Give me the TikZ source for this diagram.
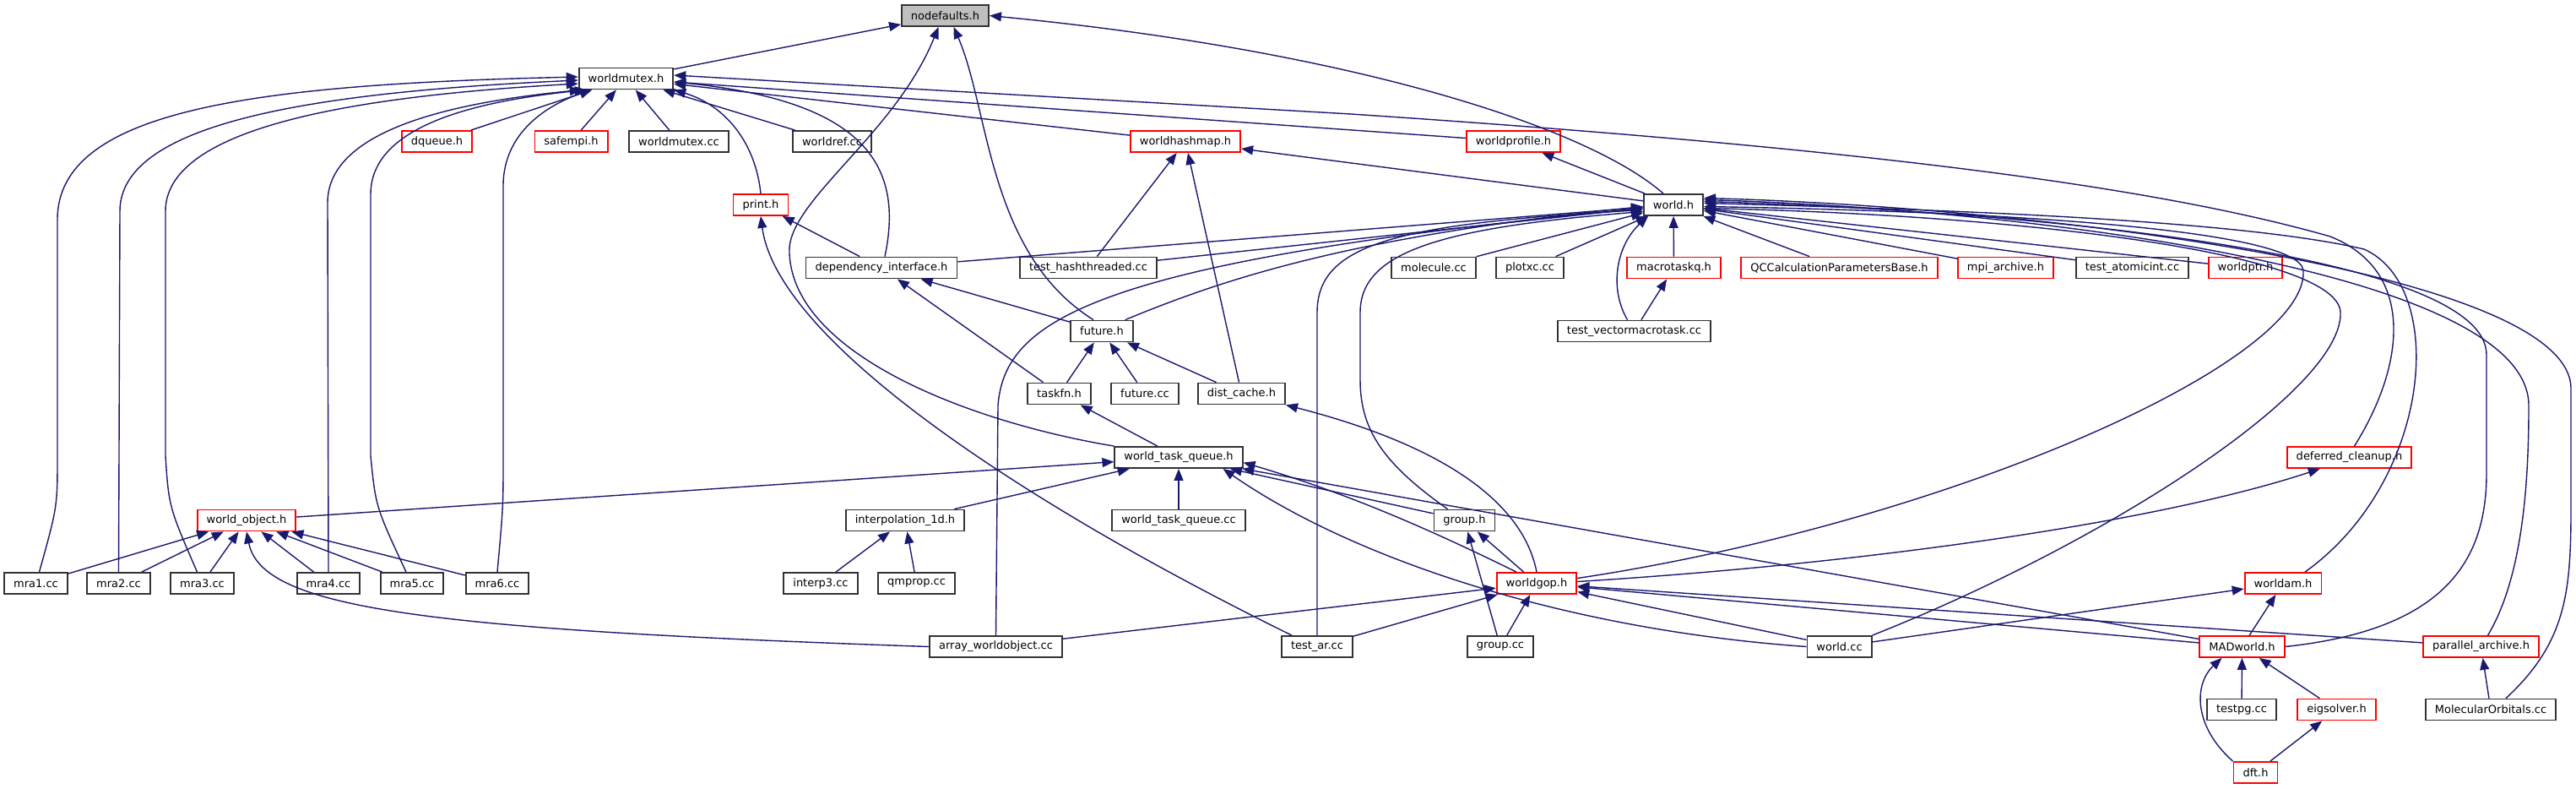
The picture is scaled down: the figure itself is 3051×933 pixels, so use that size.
\documentclass[tikz,border=0pt]{standalone}
\usepackage{fontspec}
\setmainfont{DejaVu Sans}
\usepackage{tikz}
\usetikzlibrary{arrows.meta}
\usepackage{xcolor}
\definecolor{midnight}{RGB}{25,25,112}
\definecolor{hdrred}{RGB}{255,0,0}

\begin{document}
\begin{tikzpicture}[
    x=0.5pt, y=-0.5pt,
    every node/.style={font=\fontsize{6.5}{7.8}\selectfont, align=center},
    hdrFile/.style={rectangle, draw=black!80, fill=white, line width=0.9pt, minimum height=12.5pt, inner xsep=5.5pt, inner ysep=0pt},
    hdrRed/.style={hdrFile, draw=hdrred},
    hdrRoot/.style={hdrFile, fill=black!25},
    inclLine/.style={draw=midnight, line width=0.7pt, -{Triangle[length=7pt,width=5.5pt]}}
]
    \useasboundingbox (0,0) rectangle (3051,933);

    \node [hdrRoot] (nodef) at (1119.5, 18.5) {nodefaults.h};

    \node [hdrFile] (wmutex) at (741.5, 93) {worldmutex.h};

    \node [hdrRed] (dqueue) at (517.5, 167.5) {dqueue.h};
    \node [hdrRed] (safempi) at (676.5, 167.5) {safempi.h};
    \node [hdrFile] (wmutexcc) at (804, 167.5) {worldmutex.cc};
    \node [hdrFile] (wref) at (985.5, 167.5) {worldref.cc};
    \node [hdrRed] (whash) at (1404, 167.5) {worldhashmap.h};
    \node [hdrRed] (wprof) at (1792.5, 167.5) {worldprofile.h};

    \node [hdrRed] (print) at (901, 242.5) {print.h};
    \node [hdrFile] (world) at (1982, 242.5) {world.h};

    \node [hdrFile] (depif) at (1044, 317) {dependency\_interface.h};
    \node [hdrFile] (testhash) at (1289, 317) {test\_hashthreaded.cc};
    \node [hdrFile] (molecule) at (1698, 317) {molecule.cc};
    \node [hdrFile] (plotxc) at (1812, 317) {plotxc.cc};
    \node [hdrRed] (mtaskq) at (1982.5, 317) {macrotaskq.h};
    \node [hdrRed] (qcparams) at (2178.5, 317) {QCCalculationParametersBase.h};
    \node [hdrRed] (mpiarch) at (2375.5, 317) {mpi\_archive.h};
    \node [hdrFile] (testatomic) at (2525.5, 317) {test\_atomicint.cc};
    \node [hdrRed] (wptr) at (2659.5, 317) {worldptr.h};

    \node [hdrFile] (future) at (1305, 392) {future.h};
    \node [hdrFile] (testvmt) at (1935.5, 392) {test\_vectormacrotask.cc};

    \node [hdrFile] (taskfn) at (1254.5, 466) {taskfn.h};
    \node [hdrFile] (futurecc) at (1356, 466) {future.cc};
    \node [hdrFile] (distcache) at (1470.5, 466) {dist\_cache.h};

    \node [hdrFile] (wtq) at (1396, 541.5) {world\_task\_queue.h};
    \node [hdrRed] (defclean) at (2782.5, 541.5) {deferred\_cleanup.h};

    \node [hdrRed] (wobj) at (292, 616) {world\_object.h};
    \node [hdrFile] (interp) at (1072, 616) {interpolation\_1d.h};
    \node [hdrFile] (wtqcc) at (1396, 616) {world\_task\_queue.cc};
    \node [hdrFile] (group) at (1734.5, 616) {group.h};

    \node [hdrFile] (mra1) at (42.5, 690.5) {mra1.cc};
    \node [hdrFile] (mra2) at (140.5, 690.5) {mra2.cc};
    \node [hdrFile] (mra3) at (239.5, 690.5) {mra3.cc};
    \node [hdrFile] (mra4) at (389, 690.5) {mra4.cc};
    \node [hdrFile] (mra5) at (488, 690.5) {mra5.cc};
    \node [hdrFile] (mra6) at (589, 690.5) {mra6.cc};
    \node [hdrFile] (interp3) at (972, 690.5) {interp3.cc};
    \node [hdrFile] (qmprop) at (1085.5, 690.5) {qmprop.cc};
    \node [hdrRed] (wgop) at (1820, 690.5) {worldgop.h};
    \node [hdrRed] (wam) at (2704, 690.5) {worldam.h};

    \node [hdrFile] (arraywo) at (1179.5, 765.5) {array\_worldobject.cc};
    \node [hdrFile] (testar) at (1560, 765.5) {test\_ar.cc};
    \node [hdrFile] (groupcc) at (1777, 765.5) {group.cc};
    \node [hdrFile] (worldcc) at (2178.5, 765.5) {world.cc};
    \node [hdrRed] (madworld) at (2655.5, 765.5) {MADworld.h};
    \node [hdrRed] (parch) at (2938.5, 765.5) {parallel\_archive.h};

    \node [hdrFile] (testpg) at (2655, 840) {testpg.cc};
    \node [hdrRed] (eigsolver) at (2767.5, 840) {eigsolver.h};
    \node [hdrFile] (molorb) at (2950, 840) {MolecularOrbitals.cc};

    \node [hdrRed] (dft) at (2671.5, 914.5) {dft.h};

    \path [inclLine] (wmutex) -- (nodef);
    \path [inclLine] (wtq.north west) .. controls (1150,500) and (940,420) .. (935,300) .. controls (930,240) and (1060,160) .. ([xshift=-4pt]nodef.south);
    \path [inclLine] ([xshift=-5pt]future.north) .. controls (1170,300) and (1172,130) .. ([xshift=5pt]nodef.south);
    \path [inclLine] ([xshift=-6pt]world.north) .. controls (1880,150) and (1600,60) .. (nodef.east);

    \path [inclLine] ([xshift=2pt]mra1.north) .. controls (68,600) .. (68,540) -- (68,260) .. controls (68,130) and (300,100) .. ([yshift=1pt]wmutex.west);
    \path [inclLine] (mra2.north) -- (142,250) .. controls (142,150) and (350,110) .. ([yshift=-1pt]wmutex.west);
    \path [inclLine] ([xshift=-3pt]mra3.north) .. controls (200,600) .. (196,540) -- (196,250) .. controls (196,155) and (400,115) .. ([yshift=-3pt]wmutex.west);
    \path [inclLine] (mra4.north) -- (388,240) .. controls (388,150) and (550,120) .. ([xshift=2pt]wmutex.south west);
    \path [inclLine] ([xshift=-3.5pt]mra5.north) .. controls (445,600) .. (439,540) -- (439,230) .. controls (439,150) and (560,120) .. ([xshift=5pt]wmutex.south west);
    \path [inclLine] (mra6.north) .. controls (596,600) .. (596,540) -- (596,220) .. controls (596,150) and (660,120) .. ([xshift=8pt]wmutex.south west);

    \path [inclLine] (dqueue) -- (wmutex);
    \path [inclLine] (safempi) -- (wmutex);
    \path [inclLine] (wmutexcc) -- (wmutex);
    \path [inclLine] (wref) -- (wmutex);
    \path [inclLine] (print.north) .. controls (895,170) and (860,125) .. (wmutex.south east);
    \path [inclLine] ([xshift=2pt]depif.north) .. controls (1070,200) and (1030,120) .. ([yshift=-2pt]wmutex.east);
    \path [inclLine] (whash) -- (wmutex);
    \path [inclLine] (wprof) -- (wmutex);
    \path [inclLine] ([xshift=3pt]defclean.north) .. controls (2850,430) and (2860,320) .. (2760,280) .. controls (2550,220) and (2200,175) .. (1600,135) -- ([yshift=2pt]wmutex.east);

    \path [inclLine] ([xshift=-15pt]testar.north) .. controls (1200,590) and (920,400) .. (print.south);
    \path [inclLine] (world) -- (whash);
    \path [inclLine] (world) -- (wprof);
    \path [inclLine] (testhash) -- (whash);
    \path [inclLine] (distcache) -- (whash);
    \path [inclLine] (depif) -- (print);
    \path [inclLine] (future) -- (depif);
    \path [inclLine] (taskfn) -- (depif);

    \path [inclLine] (depif) -- (world);
    \path [inclLine] (testhash) -- (world);
    \path [inclLine] ([xshift=-5pt]future.north east) .. controls (1450,330) and (1600,280) .. ([yshift=-1pt]world.west);
    \path [inclLine] (arraywo.north) -- (1182,480) .. controls (1190,380) and (1290,310) .. ([yshift=-2pt]world.west);
    \path [inclLine] (testar.north) -- (1560,370) .. controls (1560,290) and (1650,265) .. ([yshift=-3pt]world.west);
    \path [inclLine] ([xshift=-10pt]group.north) .. controls (1640,550) and (1611,510) .. (1611,450) -- (1611,370) .. controls (1611,300) and (1700,270) .. ([yshift=-4pt]world.west);
    \path [inclLine] (molecule) -- (world);
    \path [inclLine] (plotxc) -- (world);
    \path [inclLine] ([xshift=-4pt]testvmt.north) .. controls (1905,340) and (1915,290) .. ([xshift=3pt]world.south west);
    \path [inclLine] (testvmt) -- (mtaskq);
    \path [inclLine] (mtaskq) -- (world);
    \path [inclLine] (qcparams) -- (world);
    \path [inclLine] (mpiarch) -- (world);
    \path [inclLine] (testatomic) -- (world);
    \path [inclLine] (wptr) -- (world);

    \path [inclLine] (wobj) -- (wtq);
    \path [inclLine] (interp) -- (wtq);
    \path [inclLine] (wtqcc) -- (wtq);
    \path [inclLine] (wtq) -- (taskfn);
    \path [inclLine] (futurecc) -- (future);
    \path [inclLine] (distcache) -- (future);
    \path [inclLine] (taskfn) -- (future);

    \path [inclLine] (mra1) -- (wobj);
    \path [inclLine] (mra2) -- (wobj);
    \path [inclLine] (mra3) -- (wobj);
    \path [inclLine] (mra4) -- (wobj);
    \path [inclLine] (mra5) -- (wobj);
    \path [inclLine] (mra6) -- (wobj);
    \path [inclLine] (arraywo.west) .. controls (500,745) and (310,720) .. (wobj.south);
    \path [inclLine] (interp3) -- (interp);
    \path [inclLine] (qmprop) -- (interp);

    \path [inclLine] (worldcc.west) .. controls (1850,745) and (1600,660) .. ([xshift=-12pt]wtq.south east);
    \path [inclLine] (group) -- (wtq);
    \path [inclLine] ([xshift=-12pt]wgop.north) .. controls (1700,630) and (1600,585) .. ([yshift=-3pt]wtq.east);
    \path [inclLine] (madworld) -- (wtq);

    \path [inclLine] (wgop) -- (group);
    \path [inclLine] (groupcc) -- (group);
    \path [inclLine] (testar) -- (wgop);
    \path [inclLine] (groupcc) -- (wgop);
    \path [inclLine] (arraywo) -- (wgop);
    \path [inclLine] (worldcc) -- (wgop);
    \path [inclLine] (madworld) -- (wgop);
    \path [inclLine] (parch) -- (wgop);
    \path [inclLine] (wgop.north) .. controls (1805,600) and (1720,530) .. (distcache.south east);
    \path [inclLine] ([yshift=3pt]wgop.east) .. controls (2300,620) and (2735,430) .. (2728,320) .. controls (2722,270) and (2350,250) .. ([yshift=-1pt]world.east);
    \path [inclLine] ([yshift=1pt]wgop.east) .. controls (2200,668) and (2550,620) .. ([xshift=20pt]defclean.south west);

    \path [inclLine] (worldcc.north east) .. controls (2500,640) and (2775,460) .. (2772,370) .. controls (2770,300) and (2400,255) .. ([yshift=-2pt]world.east);
    \path [inclLine] (worldcc) -- (wam);
    \path [inclLine] ([xshift=13pt]wam.north) .. controls (2880,570) and (2900,340) .. (2800,295) .. controls (2650,260) and (2300,248) .. ([yshift=1pt]world.east);
    \path [inclLine] (madworld.east) .. controls (2900,745) and (2945,660) .. (2945,560) -- (2945,420) .. controls (2945,300) and (2400,250) .. ([yshift=2pt]world.east);
    \path [inclLine] ([xshift=4pt]parch.north) .. controls (2990,680) and (2995,560) .. (2995,480) .. controls (2995,320) and (2400,248) .. ([yshift=3pt]world.east);
    \path [inclLine] ([xshift=9pt]molorb.north) .. controls (3040,760) and (3045,700) .. (3045,600) -- (3045,460) .. controls (3045,320) and (2400,245) .. ([yshift=4pt]world.east);

    \path [inclLine] (molorb) -- (parch);
    \path [inclLine] (madworld) -- (wam);
    \path [inclLine] (testpg) -- (madworld);
    \path [inclLine] (eigsolver) -- (madworld);
    \path [inclLine] (dft) -- (eigsolver);
    \path [inclLine] (dft.north west) .. controls (2598,860) and (2598,810) .. ([xshift=-12pt]madworld.south);
\end{tikzpicture}
\end{document}
